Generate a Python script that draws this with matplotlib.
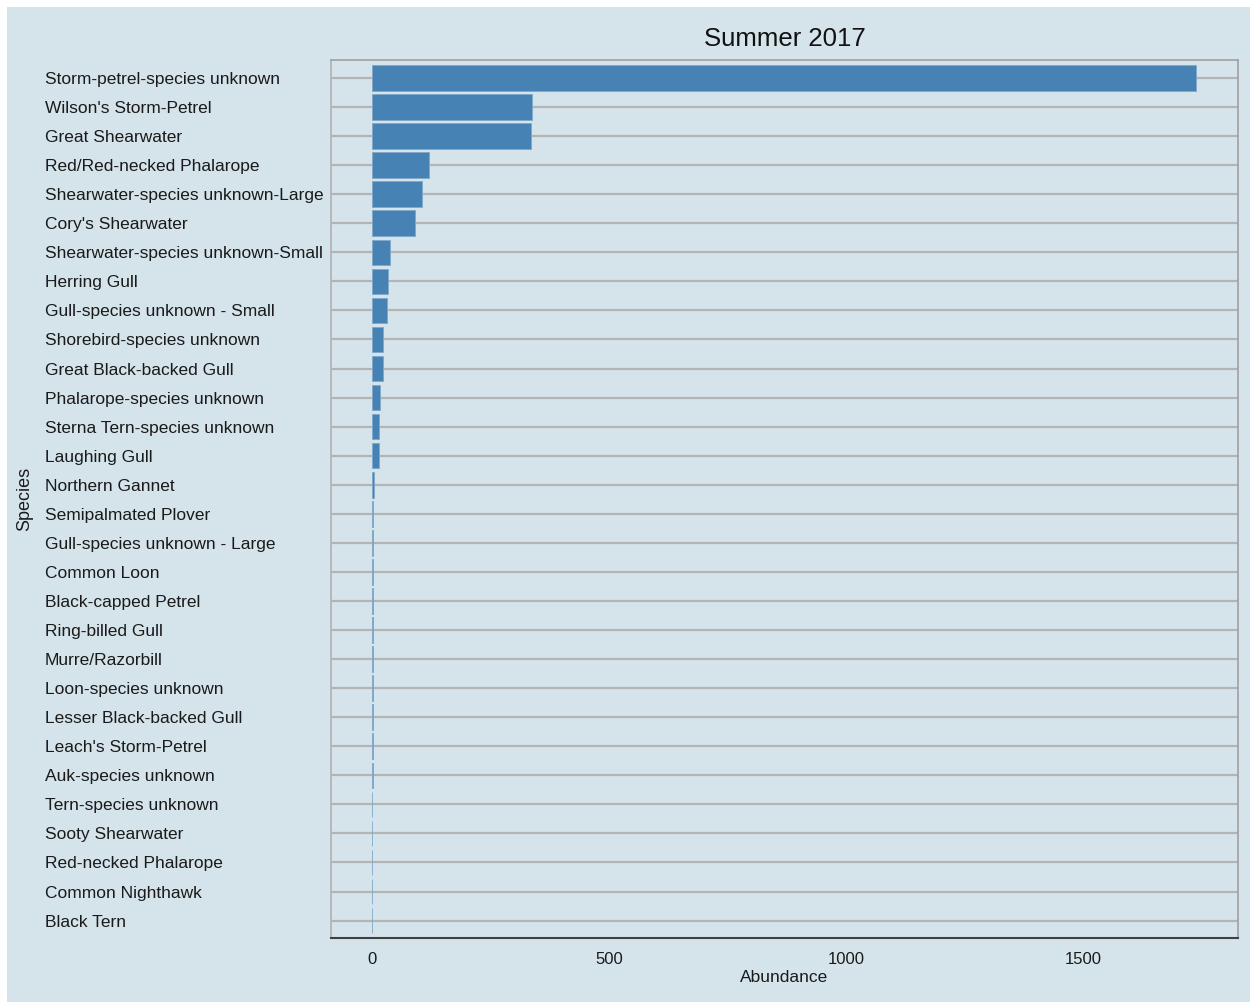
import matplotlib.pyplot as plt
import numpy as np
from matplotlib.patches import Rectangle

plt.rcParams['font.family'] = ['Liberation Sans', 'DejaVu Sans']

# Species and abundance (top to bottom)
species = [
    "Storm-petrel-species unknown", "Wilson's Storm-Petrel", "Great Shearwater",
    "Red/Red-necked Phalarope", "Shearwater-species unknown-Large",
    "Cory's Shearwater", "Shearwater-species unknown-Small", "Herring Gull",
    "Gull-species unknown - Small", "Shorebird-species unknown",
    "Great Black-backed Gull", "Phalarope-species unknown",
    "Sterna Tern-species unknown", "Laughing Gull", "Northern Gannet",
    "Semipalmated Plover", "Gull-species unknown - Large", "Common Loon",
    "Black-capped Petrel", "Ring-billed Gull", "Murre/Razorbill",
    "Loon-species unknown", "Lesser Black-backed Gull", "Leach's Storm-Petrel",
    "Auk-species unknown", "Tern-species unknown", "Sooty Shearwater",
    "Red-necked Phalarope", "Common Nighthawk", "Black Tern",
]
abundance = [
    1738, 338, 335, 121, 106, 90, 39, 33, 31, 24,
    24, 16, 14, 14, 5, 3, 3, 2, 2, 2,
    2, 2, 2, 2, 2, 1, 1, 1, 1, 1,
]
x_ticks = [0, 500, 1000, 1500]

bg = '#d5e4eb'

fig = plt.figure(figsize=(12.5, 10.02), dpi=100)
fig.patch.set_facecolor('white')
fig.patches.append(Rectangle((7 / 1250, 0), 1, 1 - 7 / 1002,
                             transform=fig.transFigure, facecolor=bg,
                             edgecolor='none', zorder=-10))

ax = fig.add_axes([331 / 1250, 1 - 938 / 1002, 907 / 1250, 878 / 1002])
ax.set_facecolor(bg)

ypos = np.arange(len(species))
for y in ypos:
    ax.axhline(y, color='#b4b4b4', lw=1.6, zorder=1)
ax.barh(ypos, abundance, height=0.88, color='#4682b4',
        edgecolor='#7ea8cc', linewidth=0.6, zorder=2)

ax.set_xlim(-86.5, 1827)
ax.set_ylim(len(species) - 0.4, -0.62)

ax.set_xticks(x_ticks)
ax.set_xticklabels([str(t) for t in x_ticks])
ax.set_yticks(ypos)
ax.set_yticklabels(species)
for lab in ax.get_yticklabels():
    lab.set_horizontalalignment('left')
ax.tick_params(axis='y', length=0, pad=206, labelsize=12.5, labelcolor='#1a1a1a')
ax.tick_params(axis='x', length=0, pad=10, labelsize=12, labelcolor='#1a1a1a')

ax.set_xlabel('Abundance', fontsize=12.5, labelpad=2, color='#1a1a1a')
ax.set_ylabel('Species', fontsize=13, color='#1a1a1a')
ax.yaxis.set_label_coords(-0.328, 0.5)
ax.set_title('Summer 2017', fontsize=18.5, pad=10, color='#111111')

for side in ['top', 'right']:
    ax.spines[side].set_color('#a0a0a0')
    ax.spines[side].set_linewidth(1.2)
ax.spines['left'].set_color('#b0b0b0')
ax.spines['left'].set_linewidth(1.2)
ax.spines['bottom'].set_color('#404040')
ax.spines['bottom'].set_linewidth(1.5)

fig.savefig('out.png', dpi=100, facecolor=fig.get_facecolor())
